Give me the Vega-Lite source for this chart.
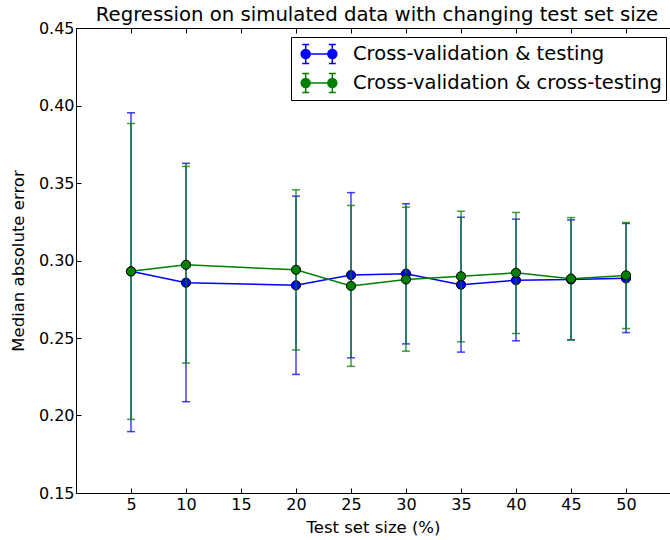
{
  "$schema": "https://vega.github.io/schema/vega-lite/v6.json",
  "autosize": "none",
  "width": 594,
  "height": 465,
  "padding": {"left": 76, "top": 28, "right": 0, "bottom": 47},
  "config": {
    "font": "DejaVu Sans",
    "view": {"stroke": null},
    "axis": {
      "domainColor": "black", "tickColor": "black", "labelColor": "black", "titleColor": "black",
      "grid": false, "labelFont": "DejaVu Sans", "titleFont": "DejaVu Sans",
      "labelFontSize": 16, "titleFontSize": 16.5, "titleFontWeight": "normal",
      "tickSize": -5, "domainWidth": 1, "tickWidth": 1
    }
  },
  "title": {"text": "Regression on simulated data with changing test set size", "fontSize": 19.7, "fontWeight": "normal", "font": "DejaVu Sans", "color": "black", "anchor": "middle", "offset": 5, "dy": 10, "dx": 4},
  "data": {"values": [
    {"series": "Cross-validation & testing", "x": 5, "m": 0.293, "lo": 0.1896, "hi": 0.3953},
    {"series": "Cross-validation & testing", "x": 10, "m": 0.2857, "lo": 0.2089, "hi": 0.3627},
    {"series": "Cross-validation & testing", "x": 20, "m": 0.284, "lo": 0.2265, "hi": 0.3415},
    {"series": "Cross-validation & testing", "x": 25, "m": 0.2906, "lo": 0.2372, "hi": 0.3438},
    {"series": "Cross-validation & testing", "x": 30, "m": 0.2915, "lo": 0.2462, "hi": 0.3366},
    {"series": "Cross-validation & testing", "x": 35, "m": 0.2844, "lo": 0.2409, "hi": 0.3279},
    {"series": "Cross-validation & testing", "x": 40, "m": 0.2873, "lo": 0.2482, "hi": 0.3267},
    {"series": "Cross-validation & testing", "x": 45, "m": 0.2878, "lo": 0.2488, "hi": 0.3262},
    {"series": "Cross-validation & testing", "x": 50, "m": 0.2885, "lo": 0.2535, "hi": 0.3239},
    {"series": "Cross-validation & cross-testing", "x": 5, "m": 0.293, "lo": 0.1975, "hi": 0.3884},
    {"series": "Cross-validation & cross-testing", "x": 10, "m": 0.2972, "lo": 0.2338, "hi": 0.3607},
    {"series": "Cross-validation & cross-testing", "x": 20, "m": 0.294, "lo": 0.2423, "hi": 0.3456},
    {"series": "Cross-validation & cross-testing", "x": 25, "m": 0.2836, "lo": 0.2317, "hi": 0.3355},
    {"series": "Cross-validation & cross-testing", "x": 30, "m": 0.2878, "lo": 0.2415, "hi": 0.3344},
    {"series": "Cross-validation & cross-testing", "x": 35, "m": 0.2898, "lo": 0.2475, "hi": 0.3318},
    {"series": "Cross-validation & cross-testing", "x": 40, "m": 0.2921, "lo": 0.2529, "hi": 0.331},
    {"series": "Cross-validation & cross-testing", "x": 45, "m": 0.2883, "lo": 0.2488, "hi": 0.3277},
    {"series": "Cross-validation & cross-testing", "x": 50, "m": 0.2904, "lo": 0.2561, "hi": 0.3245}
  ]},
  "layer": [
    {
      "encoding": {
        "x": {"field": "x", "type": "quantitative", "scale": {"domain": [0, 54], "nice": false},
              "axis": {"orient": "bottom", "values": [5, 10, 15, 20, 25, 30, 35, 40, 45, 50], "title": "Test set size (%)", "labelPadding": 8, "titlePadding": 7}},
        "color": {"field": "series", "type": "nominal",
          "scale": {"domain": ["Cross-validation & testing", "Cross-validation & cross-testing"], "range": ["#0000ff", "#007f00"]},
          "legend": {
            "title": null, "orient": "none", "legendX": 215, "legendY": 9,
            "strokeColor": "black", "fillColor": "white", "padding": 4, "cornerRadius": 0,
            "symbolType": "M-1.11 0L1.11 0M-1.11 -0.79L-1.11 0.79M-1.4 -0.79L-0.82 -0.79M-1.4 0.79L-0.82 0.79M1.11 -0.79L1.11 0.79M0.82 -0.79L1.4 -0.79M0.82 0.79L1.4 0.79M-1.485 0A0.375 0.375 0 1 0 -0.735 0A0.375 0.375 0 1 0 -1.485 0ZM0.735 0A0.375 0.375 0 1 0 1.485 0A0.375 0.375 0 1 0 0.735 0Z",
            "symbolSize": 576, "symbolOffset": 11, "symbolStrokeWidth": 1.5, "symbolOpacity": 1,
            "labelFontSize": 19.5, "labelFont": "DejaVu Sans", "labelColor": "black", "labelOffset": 21, "labelLimit": 500, "rowPadding": 3,
            "encode": {"symbols": {"update": {"fill": {"scale": "color", "field": "value"}, "stroke": {"scale": "color", "field": "value"}, "strokeWidth": {"value": 1.5}, "opacity": {"value": 1}}}}
          }}
      },
      "layer": [
        {"transform": [{"filter": {"field": "series", "equal": "Cross-validation & testing"}}],
         "mark": {"type": "rule", "strokeWidth": 1.5, "opacity": 0.75},
         "encoding": {"y": {"field": "lo", "type": "quantitative", "title": "Median absolute error", "scale": {"domain": [0.15, 0.45], "nice": false}, "axis": {"values": [0.15, 0.2, 0.25, 0.3, 0.35, 0.4, 0.45], "format": ".2f", "labelPadding": 7, "titlePadding": 12}}, "y2": {"field": "hi"}}},
        {"transform": [{"filter": {"field": "series", "equal": "Cross-validation & testing"}}],
         "mark": {"type": "tick", "orient": "horizontal", "size": 8, "thickness": 1.5, "opacity": 0.75},
         "encoding": {"y": {"field": "lo", "type": "quantitative", "title": "Median absolute error"}}},
        {"transform": [{"filter": {"field": "series", "equal": "Cross-validation & testing"}}],
         "mark": {"type": "tick", "orient": "horizontal", "size": 8, "thickness": 1.5, "opacity": 0.75},
         "encoding": {"y": {"field": "hi", "type": "quantitative", "title": "Median absolute error"}}},
        {"transform": [{"filter": {"field": "series", "equal": "Cross-validation & testing"}}],
         "mark": {"type": "line", "strokeWidth": 1.5},
         "encoding": {"y": {"field": "m", "type": "quantitative", "title": "Median absolute error"}}},
        {"transform": [{"filter": {"field": "series", "equal": "Cross-validation & testing"}}],
         "mark": {"type": "point", "filled": true, "size": 85, "stroke": "black", "strokeWidth": 1, "opacity": 1},
         "encoding": {"y": {"field": "m", "type": "quantitative", "title": "Median absolute error"}}},
        {"transform": [{"filter": {"field": "series", "equal": "Cross-validation & cross-testing"}}],
         "mark": {"type": "rule", "strokeWidth": 1.5, "opacity": 0.75},
         "encoding": {"y": {"field": "lo", "type": "quantitative", "title": "Median absolute error"}, "y2": {"field": "hi"}}},
        {"transform": [{"filter": {"field": "series", "equal": "Cross-validation & cross-testing"}}],
         "mark": {"type": "tick", "orient": "horizontal", "size": 8, "thickness": 1.5, "opacity": 0.75},
         "encoding": {"y": {"field": "lo", "type": "quantitative", "title": "Median absolute error"}}},
        {"transform": [{"filter": {"field": "series", "equal": "Cross-validation & cross-testing"}}],
         "mark": {"type": "tick", "orient": "horizontal", "size": 8, "thickness": 1.5, "opacity": 0.75},
         "encoding": {"y": {"field": "hi", "type": "quantitative", "title": "Median absolute error"}}},
        {"transform": [{"filter": {"field": "series", "equal": "Cross-validation & cross-testing"}}],
         "mark": {"type": "line", "strokeWidth": 1.5},
         "encoding": {"y": {"field": "m", "type": "quantitative", "title": "Median absolute error"}}},
        {"transform": [{"filter": {"field": "series", "equal": "Cross-validation & cross-testing"}}],
         "mark": {"type": "point", "filled": true, "size": 85, "stroke": "black", "strokeWidth": 1, "opacity": 1},
         "encoding": {"y": {"field": "m", "type": "quantitative", "title": "Median absolute error"}}}
      ]
    },
    {
      "mark": {"type": "rule", "opacity": 0},
      "encoding": {
        "x": {"field": "x", "type": "quantitative", "scale": {"domain": [0, 54], "nice": false},
              "axis": {"orient": "top", "values": [5, 10, 15, 20, 25, 30, 35, 40, 45, 50], "labels": false, "title": null}}
      }
    }
  ],
  "resolve": {"scale": {"x": "independent"}}
}
